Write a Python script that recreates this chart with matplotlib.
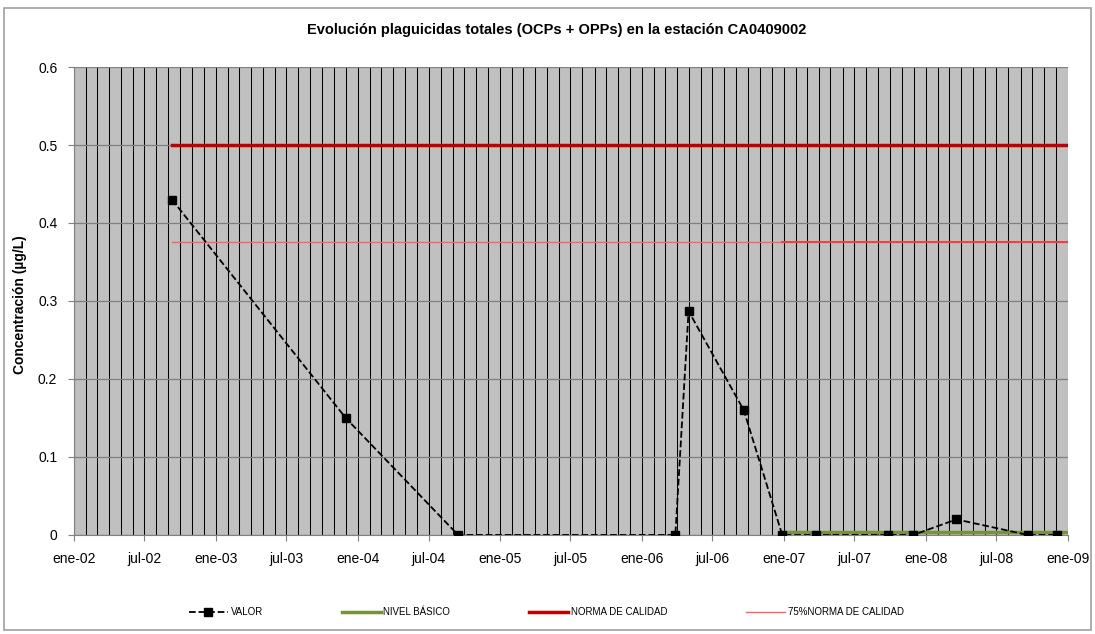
import pandas as pd
import numpy as np
import matplotlib
matplotlib.use('Agg')
import matplotlib.pyplot as plt
import matplotlib.dates as mdates
from matplotlib.patches import Rectangle

plt.rcParams['font.family'] = ['Liberation Sans', 'DejaVu Sans']

# measured values
fechas = ['2002-09-10', '2003-12-01', '2004-09-15', '2006-03-28', '2006-05-01',
          '2006-09-20', '2006-12-28', '2007-03-25', '2007-09-25', '2007-11-30',
          '2008-03-20', '2008-09-20', '2008-12-05']
valor = [0.43, 0.15, 0.0, 0.0, 0.287, 0.16, 0.0, 0.0, 0.0, 0.0, 0.02, 0.0, 0.0]

# reference levels
nivel_fechas = ['2006-12-28', '2009-01-01']
nivel_basico = [0.004, 0.004]
norma_fechas = ['2002-09-10', '2009-01-01']
norma = [0.5, 0.5]
norma75 = [0.375, 0.375]
norma75_b_fechas = ['2006-12-28', '2009-01-01']

fechas = pd.to_datetime(fechas)
nivel_fechas = pd.to_datetime(nivel_fechas)
norma_fechas = pd.to_datetime(norma_fechas)
norma75_b_fechas = pd.to_datetime(norma75_b_fechas)

fig = plt.figure(figsize=(10.95, 6.34), dpi=100)
ax = fig.add_axes([0.0676, 0.1562, 0.9077, 0.7381])
ax.set_facecolor('#C0C0C0')

# outer frame
fig.patches.append(Rectangle((0.004, 0.006), 0.992, 0.982, transform=fig.transFigure,
                             fill=False, edgecolor='#A0A0A0', linewidth=1.2))

ax.plot(fechas, valor, '--', color='black', marker='s', markersize=5.5, linewidth=1.3,
        label='VALOR', zorder=5)
ax.plot(nivel_fechas, nivel_basico, color='#76933C', linewidth=2.5, label='NIVEL BÁSICO', zorder=4)
ax.plot(norma_fechas, norma, color='#C00000', linewidth=2.5, label='NORMA DE CALIDAD', zorder=4)
ax.plot(norma_fechas, norma75, color='#FF6060', linewidth=1.0, label='75%NORMA DE CALIDAD', zorder=4)
ax.plot(norma75_b_fechas, norma75, color='#F04040', linewidth=1.4, zorder=4)

ax.set_xlim(pd.Timestamp('2002-01-01'), pd.Timestamp('2009-01-01'))
ax.set_ylim(0, 0.6)
ax.set_yticks(np.arange(0, 0.61, 0.1))
ax.set_yticklabels(['0', '0.1', '0.2', '0.3', '0.4', '0.5', '0.6'])

ax.xaxis.set_major_locator(mdates.MonthLocator(bymonth=[1, 7]))
ax.xaxis.set_minor_locator(mdates.MonthLocator())
meses = {1: 'ene', 7: 'jul'}
ax.xaxis.set_major_formatter(plt.FuncFormatter(
    lambda x, pos: '%s-%s' % (meses[mdates.num2date(x).month], mdates.num2date(x).strftime('%y'))))

ax.grid(True, which='minor', axis='x', color='black', linewidth=0.75)
ax.grid(True, which='major', axis='x', color='black', linewidth=0.75)
ax.grid(True, which='major', axis='y', color='#808080', linewidth=0.9)
ax.set_axisbelow(True)
ax.tick_params(axis='x', which='minor', length=0)
ax.tick_params(axis='both', which='major', length=4, color='#808080', labelsize=10, pad=8)

for s in ['top', 'right']:
    ax.spines[s].set_visible(False)
ax.spines['left'].set_color('#808080')
ax.spines['bottom'].set_color('#808080')

fig.text(0.508, 0.953, 'Evolución plaguicidas totales (OCPs + OPPs) en la estación CA0409002',
         ha='center', va='center', fontsize=10.5, fontweight='bold')
fig.text(0.018, 0.52, 'Concentración (µg/L)', rotation=90, ha='center', va='center',
         fontsize=10, fontweight='bold')

fig.legend(loc='center', bbox_to_anchor=(0.499, 0.0347), ncol=4, frameon=False,
           fontsize=7, handlelength=4, columnspacing=8.1, handletextpad=0.3)

plt.savefig('out.png', dpi=100)
